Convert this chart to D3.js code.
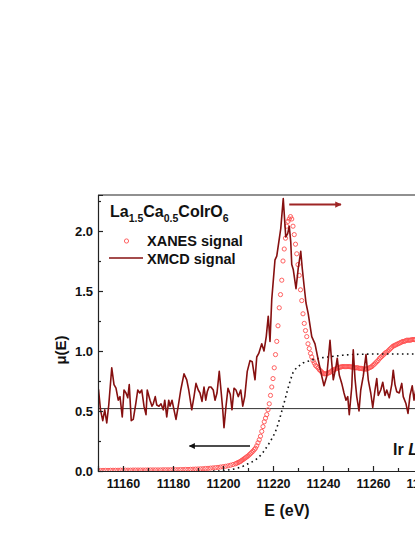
<!DOCTYPE html>
<html>
<head>
<meta charset="utf-8">
<script src="https://cdn.jsdelivr.net/npm/d3@7"></script>
<style>
  body { margin: 0; background: #fff; }
  svg { display: block; }
  text { font-family: "Liberation Sans", Arial, sans-serif; font-weight: bold; }
</style>
</head>
<body>
<script>
// values: [energy (eV), mu(E)]
var xanes = [
  [11150,0.004],[11151,0.004],[11152,0.005],[11153,0.005],[11154,0.005],[11155,0.006],[11156,0.006],[11157,0.006],
  [11158,0.006],[11159,0.007],[11160,0.007],[11161,0.007],[11162,0.007],[11163,0.007],[11164,0.008],[11165,0.008],
  [11166,0.008],[11167,0.008],[11168,0.008],[11169,0.008],[11170,0.009],[11171,0.009],[11172,0.009],[11173,0.009],
  [11174,0.009],[11175,0.009],[11176,0.010],[11177,0.010],[11178,0.010],[11179,0.010],[11180,0.011],[11181,0.011],
  [11182,0.011],[11183,0.012],[11184,0.012],[11185,0.013],[11186,0.013],[11187,0.014],[11188,0.015],[11189,0.016],
  [11190,0.017],[11191,0.018],[11192,0.019],[11193,0.021],[11194,0.022],[11195,0.024],[11196,0.026],[11197,0.028],
  [11198,0.030],[11199,0.033],[11200,0.036],[11201,0.039],[11202,0.043],[11203,0.048],[11204,0.054],
  [11205,0.060],[11205.5,0.065],[11206,0.070],[11206.5,0.075],[11207,0.080],[11207.5,0.088],[11208,0.095],
  [11208.5,0.103],[11209,0.110],[11209.5,0.118],[11210,0.125],[11210.5,0.135],[11211,0.145],[11211.5,0.155],
  [11212,0.165],[11212.5,0.178],[11213,0.190],[11213.5,0.210],[11214,0.235],[11214.5,0.260],[11215,0.290],
  [11215.5,0.330],[11216,0.370],[11216.5,0.410],[11217,0.440],[11217.5,0.470],[11218,0.510],[11218.5,0.560],
  [11219,0.630],[11219.5,0.700],[11220,0.770],[11220.5,0.860],[11221,0.970],[11221.5,1.080],[11222,1.210],
  [11222.5,1.360],[11223,1.470],[11223.5,1.590],[11224,1.750],[11224.5,1.850],[11225,1.940],[11225.5,2.040],
  [11226,2.080],[11226.5,2.100],[11227,2.120],[11227.5,2.100],[11228,2.040],[11228.5,1.970],[11229,1.890],
  [11229.5,1.810],[11230,1.720],[11230.5,1.630],[11231,1.510],[11231.5,1.420],[11232,1.310],[11232.5,1.230],
  [11233,1.170],[11233.5,1.120],[11234,1.060],[11234.5,1.020],[11235,0.980],[11235.5,0.950],[11236,0.920],
  [11236.5,0.900],[11237,0.880],[11237.5,0.870],[11238,0.860],[11238.5,0.845],[11239,0.835],[11239.5,0.825],
  [11240,0.815],[11240.5,0.810],[11241,0.810],[11241.5,0.810],[11242,0.815],[11242.5,0.820],[11243,0.825],
  [11243.5,0.835],[11244,0.840],[11244.5,0.845],[11245,0.850],[11245.5,0.855],[11246,0.860],[11246.5,0.865],
  [11247,0.865],[11247.5,0.870],[11248,0.870],[11248.5,0.870],[11249,0.870],[11249.5,0.870],[11250,0.870],
  [11250.5,0.870],[11251,0.870],[11251.5,0.865],[11252,0.865],[11252.5,0.860],[11253,0.860],[11253.5,0.860],
  [11254,0.860],[11254.5,0.855],[11255,0.855],[11255.5,0.855],[11256,0.850],[11256.5,0.850],[11257,0.850],
  [11257.5,0.850],[11258,0.855],[11258.5,0.860],[11259,0.865],[11259.5,0.870],[11260,0.880],[11260.5,0.890],
  [11261,0.900],[11261.5,0.910],[11262,0.920],[11262.5,0.935],[11263,0.945],[11263.5,0.955],[11264,0.965],
  [11264.5,0.975],[11265,0.985],[11265.5,0.990],[11266,1.000],[11266.5,1.010],[11267,1.020],[11267.5,1.030],
  [11268,1.040],[11268.5,1.045],[11269,1.050],[11269.5,1.055],[11270,1.060],[11270.5,1.065],[11271,1.070],
  [11271.5,1.075],[11272,1.080],[11272.5,1.080],[11273,1.085],[11273.5,1.090],[11274,1.090],[11274.5,1.090],
  [11275,1.090],[11275.5,1.095],[11276,1.095],[11276.5,1.095],[11277,1.095],[11278,1.090],[11279,1.090],[11280,1.090]
];

var xmcd = [
  [11150.2,0.68],[11151.0,0.51],[11151.9,0.42],[11152.7,0.51],[11153.5,0.40],[11154.3,0.55],[11155.5,0.86],
  [11156.4,0.72],[11157.2,0.69],[11158.1,0.59],[11158.8,0.62],[11159.7,0.45],[11160.4,0.675],[11161.2,0.65],
  [11161.9,0.61],[11162.5,0.72],[11163.3,0.42],[11164.1,0.43],[11165.1,0.56],[11165.9,0.675],[11166.7,0.65],
  [11167.5,0.675],[11168.4,0.54],[11169.2,0.47],[11169.7,0.675],[11170.8,0.59],[11171.6,0.54],[11172.1,0.56],
  [11172.9,0.62],[11173.5,0.55],[11174.4,0.54],[11175.2,0.56],[11176.1,0.51],[11176.7,0.59],[11177.5,0.45],
  [11178.3,0.59],[11178.8,0.54],[11179.6,0.59],[11180.4,0.51],[11181.2,0.43],[11182.1,0.54],[11183.1,0.675],
  [11184.4,0.81],[11185.5,0.76],[11186.3,0.675],[11187.5,0.51],[11188.4,0.62],[11189.2,0.73],[11190.1,0.675],
  [11190.8,0.65],[11191.6,0.58],[11192.4,0.70],[11193.1,0.59],[11193.7,0.66],[11194.4,0.70],[11195.2,0.70],
  [11196.1,0.675],[11196.8,0.59],[11197.6,0.65],[11198.5,0.83],[11199.3,0.65],[11199.9,0.51],[11200.4,0.36],
  [11201.2,0.54],[11202.0,0.69],[11202.9,0.64],[11203.6,0.51],[11204.4,0.69],[11205.2,0.675],[11206.1,0.62],
  [11207.1,0.675],[11207.9,0.54],[11208.7,0.62],[11209.7,0.83],[11210.8,0.92],[11211.7,0.91],[11212.8,0.76],
  [11213.5,0.95],[11214.3,0.98],[11215.5,1.06],[11216.4,1.00],[11217.3,1.12],[11218.1,1.29],[11218.8,1.08],
  [11219.5,1.43],[11220.8,1.76],[11221.5,1.79],[11223.1,2.02],[11224.1,2.27],[11225.1,1.95],[11225.9,1.98],
  [11226.5,2.04],[11227.1,1.91],[11227.5,1.72],[11228.1,1.68],[11229.2,1.52],[11230.1,1.69],[11231.1,1.83],
  [11231.7,1.69],[11232.4,1.55],[11233.2,1.40],[11234.1,1.31],[11235.5,1.12],[11236.8,1.06],[11238.1,0.925],
  [11239.5,0.79],[11240.4,0.71],[11241.5,0.79],[11242.1,0.925],[11242.8,1.09],[11243.5,0.90],[11244.1,0.76],
  [11245.2,0.87],[11245.7,0.94],[11246.5,0.80],[11247.5,0.73],[11248.4,0.65],[11249.2,0.59],[11249.9,0.62],
  [11250.5,0.47],[11251.5,0.70],[11252.1,1.01],[11252.8,0.77],[11253.5,0.62],[11254.4,0.50],[11255.1,0.675],
  [11256.1,0.79],[11257.2,0.97],[11258.1,0.76],[11259.1,0.65],[11259.9,0.53],[11260.8,0.675],[11261.5,0.77],
  [11262.1,0.63],[11263.1,0.675],[11263.9,0.74],[11264.8,0.63],[11265.5,0.675],[11266.5,0.61],[11267.5,0.72],
  [11268.1,0.84],[11268.8,0.72],[11269.5,0.66],[11270.5,0.65],[11271.5,0.73],[11272.1,0.62],[11273.2,0.56],
  [11274.0,0.48],[11274.8,0.63],[11275.7,0.71],[11276.4,0.59],[11277.3,0.70],[11278.2,0.62],[11279.0,0.68],[11280.0,0.60]
];

// edge step (dotted)
var edgeStep = [
  [11196,0.0],[11199,0.0],[11200,0.003],[11201,0.005],[11202,0.008],[11203,0.011],[11204,0.015],[11205,0.019],
  [11206,0.025],[11207,0.032],[11208,0.040],[11209,0.050],[11210,0.060],[11211,0.070],[11212,0.080],[11213,0.092],
  [11214,0.110],[11215,0.130],[11216,0.155],[11217,0.185],[11218,0.215],[11219,0.250],[11220,0.285],[11221,0.330],
  [11222,0.390],[11223,0.460],[11224,0.535],[11225,0.610],[11226,0.690],[11227,0.760],[11228,0.820],[11229,0.850],
  [11230,0.870],[11231,0.885],[11232,0.900],[11233,0.910],[11234,0.915],[11235,0.920],[11236,0.928],[11238,0.937],
  [11240,0.945],[11242,0.950],[11245,0.958],[11248,0.965],[11251,0.970],[11255,0.973],[11260,0.975],[11265,0.975],
  [11270,0.975],[11280,0.975]
];

var baseLevel = 0.52;
var energyTicks = [11160, 11180, 11200, 11220, 11240, 11260, 11280];
var energyMinor = [11150, 11170, 11190, 11210, 11230, 11250, 11270];
var muTicks = [0, 0.5, 1.0, 1.5, 2.0];
var muMinor = [0.25, 0.75, 1.25, 1.75, 2.25];

var svgWidth = 415, svgHeight = 537;
var plotLeft = 98, plotTop = 195, plotBottom = 471, plotRight = 448;

var svg = d3.select("body").append("svg")
  .attr("width", svgWidth)
  .attr("height", svgHeight);

var x = d3.scaleLinear().domain([11150, 11290]).range([plotLeft, plotRight]);
var y = d3.scaleLinear().domain([0, 2.3]).range([plotBottom, plotTop]);

svg.append("clipPath").attr("id", "plot")
  .append("rect")
  .attr("x", plotLeft).attr("y", plotTop)
  .attr("width", plotRight - plotLeft).attr("height", plotBottom - plotTop);

var plot = svg.append("g").attr("clip-path", "url(#plot)");

// horizontal reference line
plot.append("line")
  .attr("x1", plotLeft).attr("x2", plotRight)
  .attr("y1", y(baseLevel)).attr("y2", y(baseLevel))
  .attr("stroke", "#333")
  .attr("stroke-width", 1);

// XANES circles
plot.selectAll(".xanes")
  .data(xanes)
  .enter()
  .append("circle")
  .attr("class", "xanes")
  .attr("cx", function(d) { return x(d[0]); })
  .attr("cy", function(d) { return y(d[1]); })
  .attr("r", 2.1)
  .attr("fill", "none")
  .attr("stroke", "#ff5050")
  .attr("stroke-width", 0.9);

var line = d3.line()
  .x(function(d) { return x(d[0]); })
  .y(function(d) { return y(d[1]); });

// dotted edge step
plot.append("path")
  .datum(edgeStep)
  .attr("d", line)
  .attr("fill", "none")
  .attr("stroke", "#111")
  .attr("stroke-width", 1.6)
  .attr("stroke-dasharray", "1.6,3.4");

// XMCD line
plot.append("path")
  .datum(xmcd)
  .attr("d", line)
  .attr("fill", "none")
  .attr("stroke", "#861010")
  .attr("stroke-width", 1.6)
  .attr("stroke-linejoin", "round");

// axes
var xAxis = svg.append("g")
  .attr("transform", "translate(0," + plotBottom + ")")
  .call(d3.axisBottom(x).tickValues(energyTicks).tickFormat(d3.format("d")).tickSize(-5).tickPadding(8));
svg.append("g")
  .attr("transform", "translate(0," + plotBottom + ")")
  .call(d3.axisBottom(x).tickValues(energyMinor).tickFormat("").tickSize(-3))
  .select(".domain").remove();

var yAxis = svg.append("g")
  .attr("transform", "translate(" + plotLeft + ",0)")
  .call(d3.axisLeft(y).tickValues(muTicks).tickFormat(d3.format(".1f")).tickSize(-5).tickPadding(5));
svg.append("g")
  .attr("transform", "translate(" + plotLeft + ",0)")
  .call(d3.axisLeft(y).tickValues(muMinor).tickFormat("").tickSize(-3))
  .select(".domain").remove();

svg.selectAll(".domain").attr("stroke", "#222").attr("stroke-width", 1.2);
svg.selectAll(".tick line").attr("stroke", "#222").attr("stroke-width", 1.2);
xAxis.attr("font-family", null);
yAxis.attr("font-family", null);
xAxis.selectAll("text").attr("font-size", 12.5).attr("fill", "#111");
yAxis.selectAll("text").attr("font-size", 13).attr("fill", "#111");

// top frame
svg.append("line")
  .attr("x1", plotLeft).attr("x2", plotRight)
  .attr("y1", plotTop).attr("y2", plotTop)
  .attr("stroke", "#222")
  .attr("stroke-width", 1.2);

// axis titles
svg.append("text")
  .attr("x", 287).attr("y", 516)
  .attr("text-anchor", "middle")
  .attr("font-size", 16)
  .attr("fill", "#111")
  .text("E (eV)");

svg.append("text")
  .attr("transform", "translate(66,350) rotate(-90)")
  .attr("text-anchor", "middle")
  .attr("font-size", 15)
  .attr("fill", "#111")
  .text("\u03bc(E)");

// legend
var title = svg.append("text")
  .attr("x", 110).attr("y", 217)
  .attr("font-size", 16)
  .attr("fill", "#111");
title.append("tspan").text("La");
title.append("tspan").attr("dy", 5).attr("font-size", 10.5).text("1.5");
title.append("tspan").attr("dy", -5).text("Ca");
title.append("tspan").attr("dy", 5).attr("font-size", 10.5).text("0.5");
title.append("tspan").attr("dy", -5).text("CoIrO");
title.append("tspan").attr("dy", 5).attr("font-size", 10.5).text("6");

svg.append("circle")
  .attr("cx", 126.5).attr("cy", 241)
  .attr("r", 2.1)
  .attr("fill", "none")
  .attr("stroke", "#ff5050")
  .attr("stroke-width", 0.9);
svg.append("text")
  .attr("x", 147).attr("y", 246)
  .attr("font-size", 14.5)
  .attr("fill", "#111")
  .text("XANES signal");

svg.append("line")
  .attr("x1", 109).attr("x2", 143)
  .attr("y1", 258).attr("y2", 258)
  .attr("stroke", "#861010")
  .attr("stroke-width", 1.6);
svg.append("text")
  .attr("x", 147).attr("y", 264)
  .attr("font-size", 14.5)
  .attr("fill", "#111")
  .text("XMCD signal");

// arrows
var defs = svg.append("defs");
defs.append("marker")
  .attr("id", "headRed")
  .attr("viewBox", "0 0 10 10")
  .attr("refX", 9).attr("refY", 5)
  .attr("markerWidth", 4.5).attr("markerHeight", 3.2)
  .attr("markerUnits", "strokeWidth")
  .attr("orient", "auto")
  .append("path").attr("d", "M0,0L10,5L0,10z").attr("fill", "#9e2525");
defs.append("marker")
  .attr("id", "headBlack")
  .attr("viewBox", "0 0 10 10")
  .attr("refX", 9).attr("refY", 5)
  .attr("markerWidth", 6).attr("markerHeight", 4)
  .attr("markerUnits", "strokeWidth")
  .attr("orient", "auto")
  .append("path").attr("d", "M0,0L10,5L0,10z").attr("fill", "#111");

svg.append("line")
  .attr("x1", x(11226.5)).attr("x2", x(11247.2))
  .attr("y1", y(2.22)).attr("y2", y(2.22))
  .attr("stroke", "#9e2525")
  .attr("stroke-width", 2)
  .attr("marker-end", "url(#headRed)");

svg.append("line")
  .attr("x1", x(11210.8)).attr("x2", x(11186.6))
  .attr("y1", y(0.208)).attr("y2", y(0.208))
  .attr("stroke", "#111")
  .attr("stroke-width", 1.5)
  .attr("marker-end", "url(#headBlack)");

// edge label
var edge = svg.append("text")
  .attr("x", 393).attr("y", 455)
  .attr("font-size", 16)
  .attr("fill", "#111");
edge.append("tspan").text("Ir ");
edge.append("tspan").attr("font-style", "italic").text("L");
edge.append("tspan").attr("dy", 4).attr("font-size", 11).text("3");
edge.append("tspan").attr("dy", -4).text(" edge");
</script>
</body>
</html>
